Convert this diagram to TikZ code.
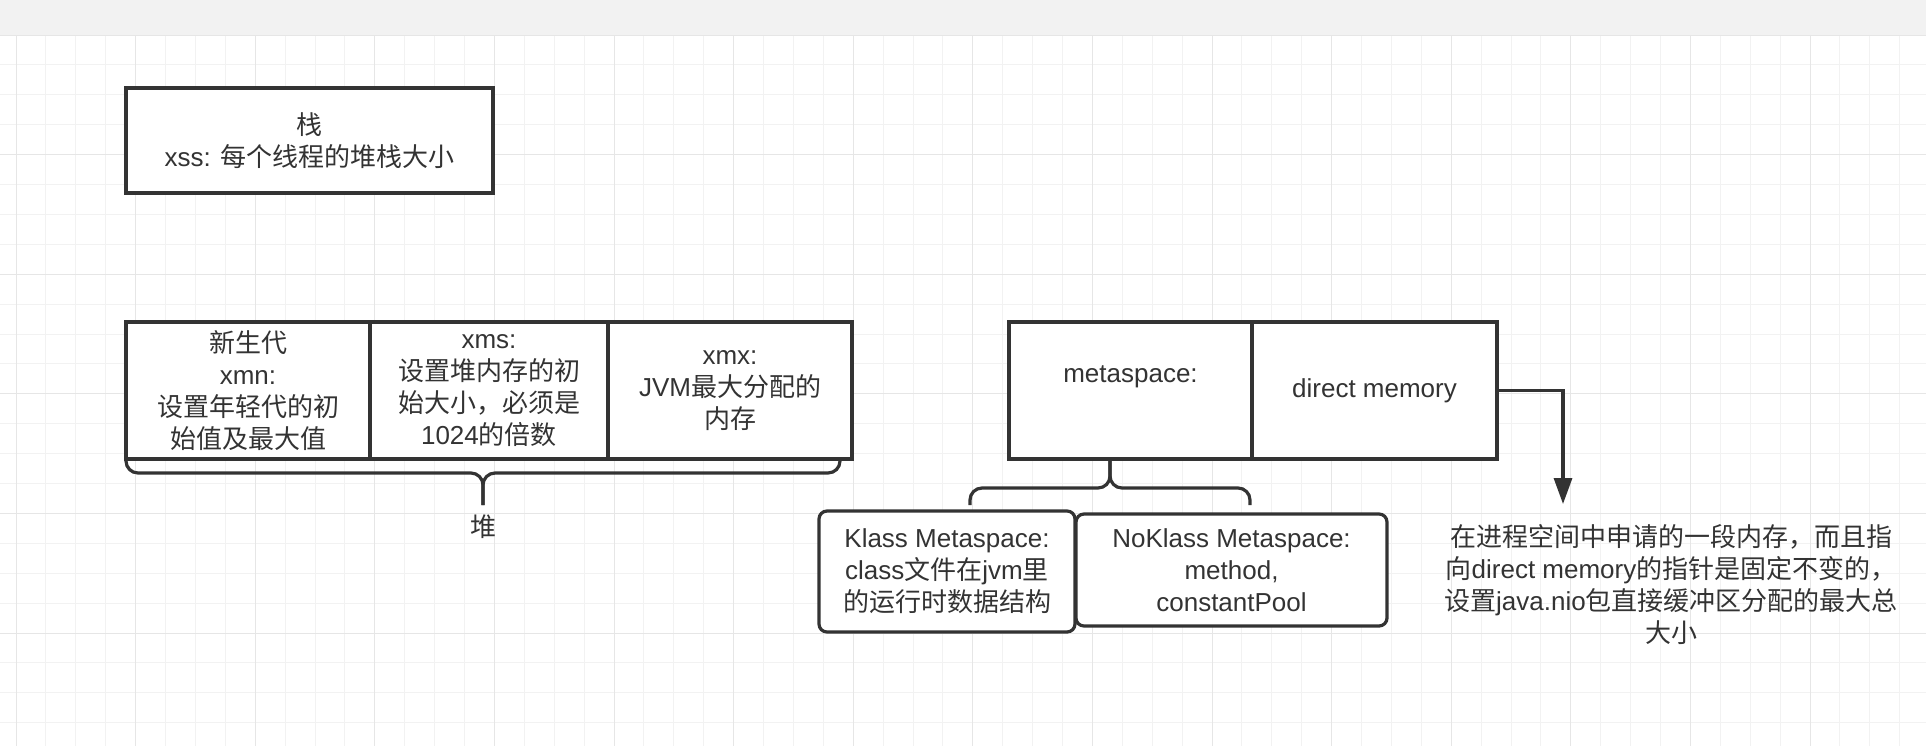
\documentclass[tikz,border=0pt]{standalone}
\usepackage{fontspec}
\setmainfont{Liberation Sans}
\newfontfamily\zhfont{Noto Sans CJK SC}
\newcommand{\zh}[1]{{\zhfont #1}}
\usetikzlibrary{positioning}
\usetikzlibrary{arrows.meta}
\usepackage{xcolor}
\definecolor{ink}{HTML}{333333}
\definecolor{gridminor}{HTML}{F2F2F2}
\definecolor{gridmajor}{HTML}{E6E6E6}
\definecolor{topbar}{HTML}{F2F2F2}

\begin{document}
\begin{tikzpicture}[x=0.5pt, y=-0.5pt,
  every node/.style={font=\fontsize{13pt}{16pt}\selectfont, text=ink, align=center, inner sep=0pt, outer sep=0pt},
  cell/.style={rectangle, draw=ink, line width=1.6pt, fill=white, minimum height=68.5pt},
  roundcell/.style={cell, rounded corners=4pt},
  brace/.style={draw=ink, line width=1.6pt, rounded corners=6pt},
  link/.style={draw=ink, line width=1.6pt, -{Triangle[width=9pt,length=13pt]}}]

\useasboundingbox (0,0) rectangle (1926,746);

% Background grid
\fill[white] (0,0) rectangle (1926,746);
\foreach \k in {0,...,64}
  \draw[gridminor, line width=0.5pt] ({16+29.9*\k},35) -- ({16+29.9*\k},746);
\foreach \k in {0,...,24}
  \draw[gridminor, line width=0.5pt] (0,{35+29.9*\k}) -- (1926,{35+29.9*\k});
\foreach \k in {0,...,16}
  \draw[gridmajor, line width=0.5pt] ({16+119.6*\k},35) -- ({16+119.6*\k},746);
\foreach \k in {0,...,6}
  \draw[gridmajor, line width=0.5pt] (0,{35+119.6*\k}) -- (1926,{35+119.6*\k});
\fill[topbar] (0,0) rectangle (1926,35);

% Stack
\node[cell, anchor=north west, minimum width=183.5pt, minimum height=52.5pt] (stack) at (126,88) {\zh{栈}\\xss: \zh{每个线程的堆栈大小}};

% Heap
\node[cell, anchor=north west, minimum width=122pt] (young) at (126,322) {\zh{新生代}\\xmn:\\\zh{设置年轻代的初}\\\zh{始值及最大值}};
\node[cell, minimum width=119pt, right=0pt of young] (xms) {xms:\\\zh{设置堆内存的初}\\\zh{始大小，必须是}\\1024\zh{的倍数}};
\node[cell, minimum width=122pt, right=0pt of xms] (xmx) {xmx:\\JVM\zh{最大分配的}\\\zh{内存}};

% Metaspace and direct memory
\node[cell, anchor=north west, minimum width=121.5pt] (meta) at (1009,322) {metaspace:\\~};
\node[cell, minimum width=122.5pt, right=0pt of meta] (direct) {direct memory};

\node[roundcell, anchor=north west, minimum width=128pt, minimum height=60.5pt] (klass) at (819,511) {Klass Metaspace:\\class\zh{文件在}jvm\zh{里}\\\zh{的运行时数据结构}};
\node[roundcell, anchor=north west, minimum width=155.5pt, minimum height=56pt] (noklass) at (1076,514) {NoKlass Metaspace:\\method,\\constantPool};

\node (dmnote) at (1671,585) {\zh{在进程空间中申请的一段内存，而且指}\\\zh{向}direct memory\zh{的指针是固定不变的，}\\\zh{设置}java.nio\zh{包直接缓冲区分配的最大总}\\\zh{大小}};

% Braces
\coordinate (heapbend) at (483,473);
\coordinate (heaptip) at (483,505);
\coordinate (heapend) at (840,459);
\draw[brace] (young.south west) |- (heapbend) -- (heaptip);
\draw[brace] (heapend) |- (heapbend) -- (heaptip);
\node (heaplabel) at (483,527) {\zh{堆}};

\coordinate (metabend) at (1110,488);
\coordinate (metatip) at (1110,459);
\coordinate (klassend) at (970,505);
\coordinate (noklassend) at (1250,505);
\draw[brace] (klassend) |- (metabend) -- (metatip);
\draw[brace] (noklassend) |- (metabend) -- (metatip);

% Arrow
\coordinate (dmtip) at (1563,504);
\draw[link] (direct.east) -| (dmtip);

\end{tikzpicture}
\end{document}
